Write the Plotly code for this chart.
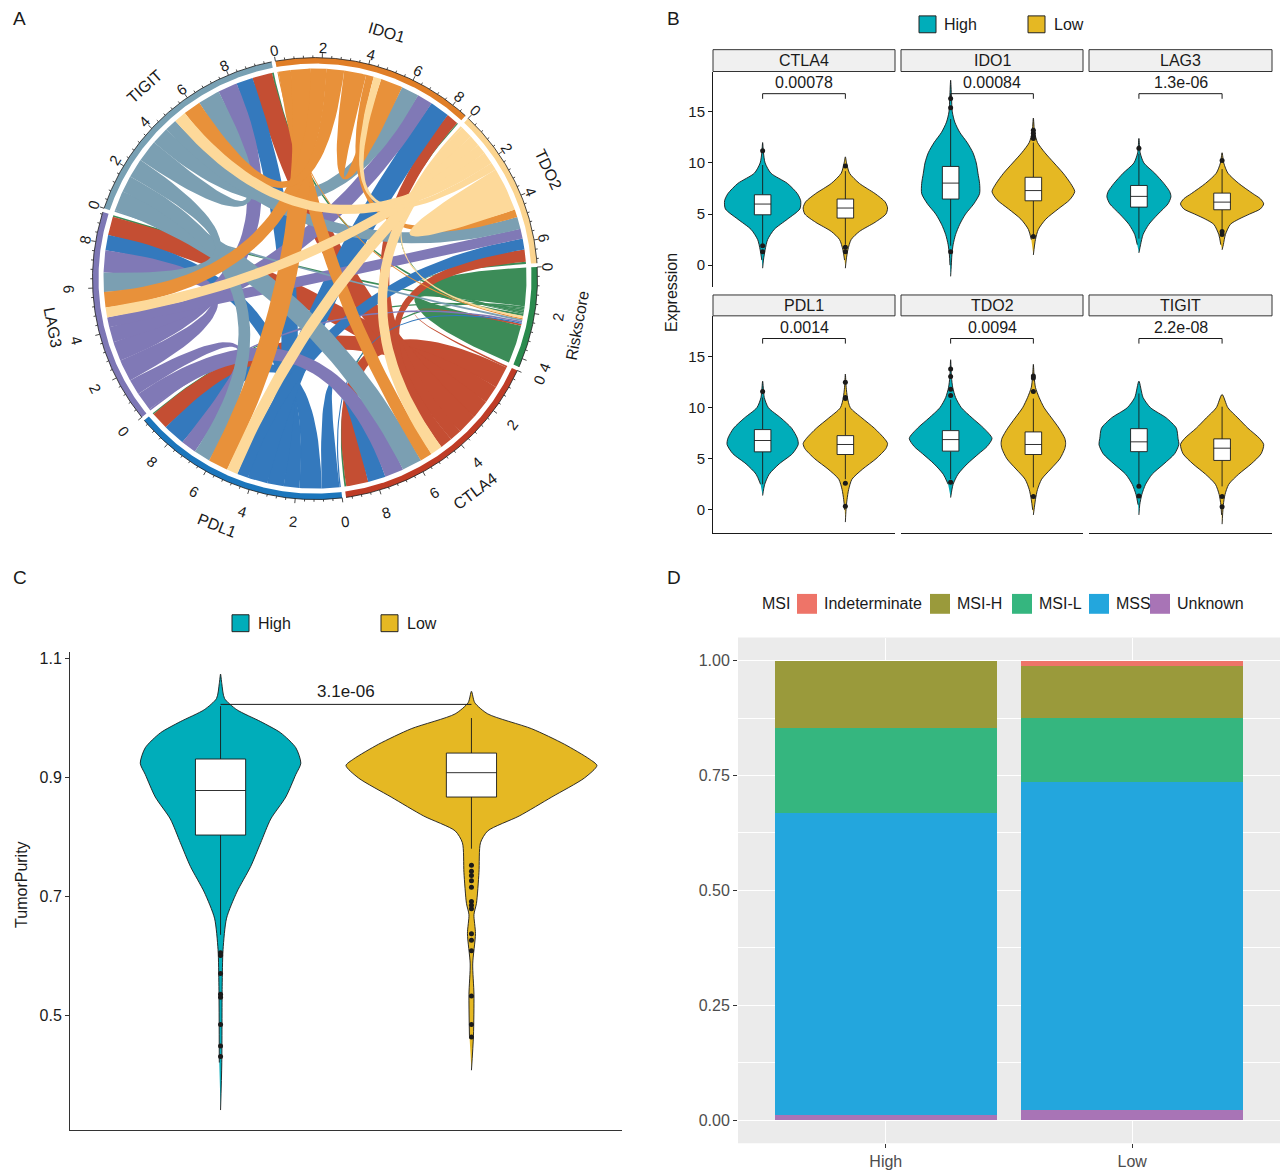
import math
import plotly.graph_objects as go

W, H = 1282, 1170
FONT = "Liberation Sans, Arial, Helvetica, sans-serif"
INK = "#1a1a1a"


def fx(p):
    return p / W


def fy(p):
    return 1 - p / H


# ---------------- A: chord diagram of the checkpoint genes ----------------
chord_sectors = ["Riskscore", "CTLA4", "PDL1", "LAG3", "TIGIT", "IDO1", "TDO2"]
chord_matrix = [
    [1.75, 0.08, 0.06, 0.07, 0.08, 0.05, 0.10],
    [0.08, 1.00, 0.80, 0.85, 0.90, 0.55, 0.55],
    [0.06, 0.80, 1.00, 0.70, 0.75, 0.90, 0.50],
    [0.07, 0.85, 0.70, 1.00, 0.88, 0.70, 0.45],
    [0.08, 0.90, 0.75, 0.88, 1.00, 0.80, 0.55],
    [0.05, 0.55, 0.90, 0.70, 0.80, 1.00, 0.35],
    [0.10, 0.55, 0.50, 0.45, 0.55, 0.35, 1.00],
]
ring_colors = ["#2A8A4E", "#BF3C26", "#1C76BC", "#7D77B5", "#78A0B3", "#E07E27", "#FBD48F"]
link_colors = ["#3C8C58", "#C44E33", "#3479BD", "#8079B6", "#7B9FB2", "#E8913A", "#FDD99A"]

# ---------------- B: expression by risk group ----------------
genes_B = ["CTLA4", "IDO1", "LAG3", "PDL1", "TDO2", "TIGIT"]
pvals_B = ["0.00078", "0.00084", "1.3e-06", "0.0014", "0.0094", "2.2e-08"]

high_levels = [
    [-0.3, 0.5, 1.5, 2.5, 3.5, 4.5, 5.5, 6.3, 7.0, 8.0, 9.0, 10.0, 11.0, 12.0],
    [-1.1, 0, 1, 2, 3, 4, 5, 6, 7, 8, 9, 10, 11, 12, 13, 14, 15, 16.5, 18.1],
    [1.2, 2, 3, 4, 5, 6, 6.7, 7.2, 8, 9, 10, 11, 12.4],
    [1.4, 2.5, 3.5, 4.5, 5.5, 6.4, 7, 8, 9, 10, 11, 12.6],
    [1.2, 2.5, 3.5, 4.5, 5.5, 6.2, 7, 8, 9, 10, 11, 12, 13, 14.7],
    [-0.5, 0.5, 1.5, 2.5, 3.5, 4.5, 5.5, 6.4, 7, 8, 9, 10, 11, 12.6],
]
high_widths = [
    [0, 0.01, 0.03, 0.06, 0.14, 0.30, 0.45, 0.46, 0.42, 0.30, 0.10, 0.03, 0.01, 0],
    [0, 0.008, 0.015, 0.03, 0.06, 0.11, 0.18, 0.28, 0.35, 0.35, 0.33, 0.31, 0.27, 0.20, 0.11, 0.05, 0.02, 0.01, 0],
    [0, 0.02, 0.05, 0.12, 0.23, 0.35, 0.385, 0.37, 0.30, 0.19, 0.06, 0.015, 0],
    [0, 0.025, 0.08, 0.20, 0.36, 0.43, 0.42, 0.35, 0.22, 0.07, 0.02, 0],
    [0, 0.03, 0.09, 0.20, 0.34, 0.44, 0.50, 0.40, 0.26, 0.13, 0.06, 0.025, 0.01, 0],
    [0, 0.01, 0.035, 0.08, 0.16, 0.30, 0.43, 0.48, 0.47, 0.45, 0.33, 0.14, 0.05, 0],
]
low_levels = [
    [-0.3, 0.5, 1.5, 2.5, 3.3, 4.2, 5.0, 5.6, 6.2, 7.0, 8.0, 9.0, 10.0, 10.6],
    [1.0, 2.5, 3.5, 4.5, 5.5, 6.4, 7.2, 8, 9, 10, 11, 12, 13, 14.4],
    [1.5, 2, 3, 4, 4.5, 5, 5.5, 6, 6.5, 7, 8, 9, 10, 11],
    [-1.2, 0, 1, 2, 3, 4, 5, 6, 6.5, 7, 8, 9, 10, 11, 12, 13.3],
    [-0.5, 0, 1, 2, 3, 4, 5, 6, 6.5, 7, 8, 9, 10, 11, 12, 13, 14.25],
    [-1.4, -0.5, 0.5, 1.5, 2.5, 3.5, 4.5, 5.5, 6.4, 7, 8, 9, 10, 11.3],
]
low_widths = [
    [0, 0.01, 0.03, 0.07, 0.17, 0.36, 0.49, 0.51, 0.48, 0.36, 0.17, 0.05, 0.015, 0],
    [0, 0.025, 0.06, 0.15, 0.30, 0.44, 0.50, 0.45, 0.36, 0.25, 0.14, 0.05, 0.015, 0],
    [0, 0.015, 0.04, 0.10, 0.20, 0.33, 0.46, 0.50, 0.46, 0.37, 0.20, 0.07, 0.02, 0],
    [0, 0.008, 0.02, 0.04, 0.08, 0.21, 0.37, 0.49, 0.51, 0.47, 0.35, 0.20, 0.06, 0.025, 0.01, 0],
    [0, 0.008, 0.025, 0.05, 0.10, 0.21, 0.32, 0.38, 0.39, 0.38, 0.31, 0.22, 0.13, 0.07, 0.025, 0.01, 0],
    [0, 0.006, 0.015, 0.035, 0.08, 0.20, 0.35, 0.47, 0.50, 0.45, 0.31, 0.19, 0.07, 0],
]
high_q1 = [4.93, 6.47, 5.68, 5.68, 5.75, 5.70]
high_med = [5.98, 8.03, 6.73, 6.79, 6.88, 6.66]
high_q3 = [6.89, 9.66, 7.80, 7.86, 7.76, 7.95]
high_lo = [2.10, 1.90, 2.60, 2.50, 3.00, 2.50]
high_hi = [9.80, 14.3, 10.9, 11.0, 10.8, 11.4]
high_out = [[11.2, 1.9, 1.3], [16.3, 15.4, 1.3], [11.45], [11.6],
            [13.8, 13.05, 11.8, 11.2, 2.7], [2.3, 1.35]]
low_q1 = [4.61, 6.30, 5.42, 5.42, 5.42, 4.84]
low_med = [5.59, 7.30, 6.17, 6.40, 6.40, 6.04]
low_q3 = [6.47, 8.60, 7.05, 7.27, 7.63, 6.95]
low_lo = [2.00, 3.00, 3.50, 3.00, 2.20, 2.30]
low_hi = [9.20, 12.0, 9.40, 10.0, 10.9, 10.1]
low_out = [[9.7, 1.75, 1.3], [13.2, 12.9, 12.6, 12.4, 2.8], [10.25, 3.3, 3.0],
           [12.5, 11.0, 10.9, 2.6, 0.35], [13.1, 12.9, 11.6, 1.3], [1.3, 0.3]]

# ---------------- C: tumour purity ----------------
purity_high_levels = [0.34, 0.42, 0.548, 0.61, 0.663, 0.707, 0.75, 0.79, 0.83, 0.867,
                      0.905, 0.924, 0.95, 0.975, 0.994, 1.014, 1.033, 1.058, 1.074]
purity_high_widths = [0, 0.005, 0.0065, 0.01, 0.024, 0.065, 0.12, 0.16, 0.20, 0.26,
                      0.30, 0.32, 0.30, 0.24, 0.16, 0.065, 0.016, 0.005, 0]
purity_low_levels = [0.407, 0.465, 0.535, 0.586, 0.637, 0.669, 0.688, 0.74, 0.79, 0.81,
                     0.835, 0.867, 0.899, 0.92, 0.931, 0.956, 0.982, 1.007, 1.026, 1.045]
purity_low_widths = [0, 0.008, 0.01, 0.005, 0.016, 0.01, 0.02, 0.03, 0.036, 0.065,
                     0.19, 0.32, 0.45, 0.50, 0.47, 0.37, 0.24, 0.065, 0.013, 0]
purity_box_high = [0.635, 0.803, 0.878, 0.931, 1.02]   # lower whisker, q1, median, q3, upper whisker
purity_box_low = [0.78, 0.867, 0.908, 0.941, 1.0]
purity_out_high = [0.605, 0.60, 0.57, 0.535, 0.53, 0.484, 0.448, 0.43]
purity_out_low = [0.752, 0.742, 0.735, 0.726, 0.715, 0.691, 0.685, 0.679, 0.637,
                  0.626, 0.608, 0.532, 0.484, 0.463]
purity_p = "3.1e-06"

# ---------------- D: MSI status proportions ----------------
msi_groups = ["High", "Low"]
msi_labels = ["Indeterminate", "MSI-H", "MSI-L", "MSS", "Unknown"]
msi_colors = ["#EE7468", "#9A9A3B", "#35B67F", "#23A6DD", "#A874B6"]
msi_indeterminate = [0.0, 0.011]
msi_h = [0.147, 0.115]
msi_l = [0.185, 0.138]
msi_mss = [0.657, 0.713]
msi_unknown = [0.011, 0.023]

TEAL = "#00ADBA"
GOLD = "#E5B823"

fig = go.Figure()
shapes = []
annotations = []
layout_axes = {}


def text(x, y, s, size=14, color=INK, angle=0, xanchor="center", yanchor="middle",
         xref="paper", yref="paper", yshift=0):
    annotations.append(dict(x=x, y=y, text=s, showarrow=False, textangle=angle,
                            xanchor=xanchor, yanchor=yanchor, xref=xref, yref=yref,
                            yshift=yshift, font=dict(size=size, color=color, family=FONT)))


# ===================== Panel A =====================
n = len(chord_sectors)
GAP = 1.0
START = 87.0
R_LINK, R_IN, R_OUT = 211.5, 216.5, 222.5

sector_tot = [sum(chord_matrix[i]) + sum(chord_matrix[k][i] for k in range(n)) for i in range(n)]
deg_per = (360 - n * GAP) / sum(sector_tot)
sec_start = []
pos = START
for i in range(n):
    sec_start.append(pos)
    pos += sector_tot[i] * deg_per + GAP

row_end = [[None] * n for _ in range(n)]
col_end = [[None] * n for _ in range(n)]
for i in range(n):
    p = sec_start[i]
    for j in range(n):
        w = chord_matrix[i][j] * deg_per
        row_end[i][j] = (p, p + w)
        p += w
    for k in reversed(range(n)):
        w = chord_matrix[k][i] * deg_per
        col_end[k][i] = (p, p + w)
        p += w


def polar(r, b):
    t = math.radians(b)
    return r * math.sin(t), r * math.cos(t)


def arc_pts(r, b0, b1, step=0.4):
    m = max(2, int(abs(b1 - b0) / step) + 2)
    return [polar(r, b0 + (b1 - b0) * s / (m - 1)) for s in range(m)]


def ribbon(a0, a1, b0, b1):
    pa = arc_pts(R_LINK, a0, a1)
    pb = arc_pts(R_LINK, b0, b1)
    ma, mb = math.radians((a0 + a1) / 2), math.radians((b0 + b1) / 2)
    ux = math.sin(ma) + math.sin(mb)
    uy = math.cos(ma) + math.cos(mb)
    norm = math.hypot(ux, uy)
    h = 0.5 * R_LINK * norm / 2
    if norm > 1e-9:
        ux, uy = ux / norm, uy / norm

    def edge(p0, p2):
        mx, my = (p0[0] + p2[0]) / 2, (p0[1] + p2[1]) / 2
        cx, cy = mx - 2 * h * ux, my - 2 * h * uy
        out = []
        for s in range(41):
            t = s / 40
            out.append(((1 - t) ** 2 * p0[0] + 2 * (1 - t) * t * cx + t * t * p2[0],
                        (1 - t) ** 2 * p0[1] + 2 * (1 - t) * t * cy + t * t * p2[1]))
        return out

    return pa + edge(pa[-1], pb[0]) + pb + edge(pb[-1], pa[0])


for i in range(n):
    for j in range(n):
        a0, a1 = row_end[i][j]
        b0, b1 = col_end[i][j]
        pts = ribbon(a0, a1, b0, b1)
        fig.add_trace(go.Scatter(
            x=[q[0] for q in pts], y=[q[1] for q in pts], mode="lines", fill="toself",
            fillcolor=link_colors[i], line=dict(width=0), hoverinfo="skip",
            showlegend=False, xaxis="x", yaxis="y"))


def nice_angle(b):
    a = b % 360
    if 90 < a < 270:
        return a - 180, True
    if a >= 270:
        return a - 360, False
    return a, False


tick_x, tick_y = [], []
for i in range(n):
    s0 = sec_start[i]
    s1 = s0 + sector_tot[i] * deg_per
    outer = arc_pts(R_OUT, s0, s1)
    inner = arc_pts(R_IN, s1, s0)
    ring = outer + inner
    fig.add_trace(go.Scatter(
        x=[q[0] for q in ring], y=[q[1] for q in ring], mode="lines", fill="toself",
        fillcolor=ring_colors[i], line=dict(width=0), hoverinfo="skip",
        showlegend=False, xaxis="x", yaxis="y"))
    fig.add_trace(go.Scatter(
        x=[q[0] for q in outer], y=[q[1] for q in outer], mode="lines",
        line=dict(color=INK, width=0.8), hoverinfo="skip", showlegend=False,
        xaxis="x", yaxis="y"))
    k = 0
    while k * 0.4 <= sector_tot[i] + 1e-9:
        val = k * 0.4
        b = s0 + val * deg_per
        major = k % 5 == 0
        p0 = polar(R_OUT, b)
        p1 = polar(R_OUT + (4.5 if major else 2.2), b)
        tick_x += [p0[0], p1[0], None]
        tick_y += [p0[1], p1[1], None]
        if major:
            ang, flipped = nice_angle(b)
            lp = polar(246 if flipped else 233, b)
            text(lp[0], lp[1], str(int(round(val))), size=15, angle=ang,
                 xref="x", yref="y")
        k += 1
    mid = (s0 + s1) / 2
    ang, flipped = nice_angle(mid)
    lp = polar(267 if flipped else 258, mid)
    text(lp[0], lp[1], chord_sectors[i], size=16, angle=ang, xref="x", yref="y")

fig.add_trace(go.Scatter(x=tick_x, y=tick_y, mode="lines", line=dict(color=INK, width=0.8),
                         hoverinfo="skip", showlegend=False, xaxis="x", yaxis="y"))

layout_axes["xaxis"] = dict(domain=[fx(15), fx(615)], range=[-300, 300], visible=False,
                            anchor="y", fixedrange=True)
layout_axes["yaxis"] = dict(domain=[fy(559), 1.0], range=[-279.5, 279.5], visible=False,
                            anchor="x", fixedrange=True)


# ===================== shared violin / box helpers =====================
def violin(center, levels, widths, color, xa, ya):
    xs = [center + w for w in widths] + [center - w for w in reversed(widths[1:-1])]
    ys = list(levels) + list(reversed(levels[1:-1]))
    fig.add_trace(go.Scatter(
        x=xs, y=ys, mode="lines", fill="toself", fillcolor=color,
        line=dict(color=INK, width=0.9, shape="spline", smoothing=0.7),
        hoverinfo="skip", showlegend=False, xaxis=xa, yaxis=ya))


def boxplot(center, lo, q1, med, q3, hi, outs, xa, ya, half=0.1):
    # whiskers
    fig.add_trace(go.Scatter(
        x=[center, center, None, center, center], y=[lo, q1, None, q3, hi], mode="lines",
        line=dict(color=INK, width=0.9), hoverinfo="skip", showlegend=False,
        xaxis=xa, yaxis=ya))
    # box body
    fig.add_trace(go.Scatter(
        x=[center - half, center + half, center + half, center - half, center - half],
        y=[q1, q1, q3, q3, q1], mode="lines", fill="toself", fillcolor="white",
        line=dict(color=INK, width=0.9), hoverinfo="skip", showlegend=False,
        xaxis=xa, yaxis=ya))
    # median
    fig.add_trace(go.Scatter(
        x=[center - half, center + half], y=[med, med], mode="lines",
        line=dict(color=INK, width=0.9), hoverinfo="skip", showlegend=False,
        xaxis=xa, yaxis=ya))
    if outs:
        fig.add_trace(go.Scatter(
            x=[center] * len(outs), y=outs, mode="markers",
            marker=dict(size=5, color=INK), hoverinfo="skip", showlegend=False,
            xaxis=xa, yaxis=ya))


def bracket(y_top, leg, label, xa, ya, size):
    shapes.append(dict(type="path", xref=xa, yref=ya,
                       path=f"M 1,{y_top - leg} L 1,{y_top} L 2,{y_top} L 2,{y_top - leg}",
                       line=dict(color=INK, width=1)))
    text(1.5, y_top, label, size=size, xref=xa, yref=ya, yanchor="bottom", yshift=1)


# ===================== Panel B =====================
B_cols = [(713, 895), (901, 1083), (1089, 1272)]
B_rows = [(71, 288), (317, 536)]
B_strips = [(49, 71), (296, 317)]
B_yrange = [(-2.14, 18.95), (-2.3, 19.0)]

for g, gene in enumerate(genes_B):
    r, c = divmod(g, 3)
    idx = g + 2
    xa, ya = f"x{idx}", f"y{idx}"
    x0, x1 = B_cols[c]
    t0, t1 = B_rows[r]
    layout_axes[f"xaxis{idx}"] = dict(
        domain=[fx(x0), fx(x1)], range=[0.4, 2.6], anchor=ya, showgrid=False,
        zeroline=False, showticklabels=False, ticks="", showline=(r == 1),
        linecolor=INK, linewidth=1, fixedrange=True)
    layout_axes[f"yaxis{idx}"] = dict(
        domain=[fy(t1), fy(t0)], range=list(B_yrange[r]), anchor=xa, showgrid=False,
        zeroline=False, fixedrange=True, showline=(c == 0), linecolor=INK, linewidth=1,
        ticks="outside" if c == 0 else "", ticklen=4, tickcolor=INK, tickwidth=1,
        tickvals=[0, 5, 10, 15], showticklabels=(c == 0),
        tickfont=dict(size=15, color=INK, family=FONT))
    s0, s1 = B_strips[r]
    shapes.append(dict(type="rect", xref="paper", yref="paper", x0=fx(x0), x1=fx(x1),
                       y0=fy(s1), y1=fy(s0), fillcolor="#F0F0F0",
                       line=dict(color="#333333", width=1)))
    text(fx((x0 + x1) / 2), fy((s0 + s1) / 2), gene, size=16)

    violin(1, high_levels[g], high_widths[g], TEAL, xa, ya)
    violin(2, low_levels[g], low_widths[g], GOLD, xa, ya)
    boxplot(1, high_lo[g], high_q1[g], high_med[g], high_q3[g], high_hi[g], high_out[g], xa, ya)
    boxplot(2, low_lo[g], low_q1[g], low_med[g], low_q3[g], low_hi[g], low_out[g], xa, ya)
    bracket(16.78, 0.5, pvals_B[g], xa, ya, 16)

text(fx(672), fy(294), "Expression", size=16, angle=-90)


def legend_square(x0, y0, size, color, border=True):
    shapes.append(dict(type="rect", xref="paper", yref="paper", x0=fx(x0), x1=fx(x0 + size),
                       y0=fy(y0 + size), y1=fy(y0), fillcolor=color,
                       line=dict(color="#222222" if border else color, width=1 if border else 0)))


legend_square(919, 15, 17, TEAL)
text(fx(942), fy(24), "High", size=16, xanchor="left")
legend_square(1028, 15, 17, GOLD)
text(fx(1052), fy(24), "Low", size=16, xanchor="left")

# ===================== Panel C =====================
layout_axes["xaxis8"] = dict(domain=[fx(70), fx(622)], range=[0.4, 2.6], anchor="y8",
                             showgrid=False, zeroline=False, showticklabels=False, ticks="",
                             showline=True, linecolor="#333333", linewidth=1, fixedrange=True)
layout_axes["yaxis8"] = dict(domain=[fy(1137), fy(655)], range=[0.306, 1.112], anchor="x8",
                             showgrid=False, zeroline=False, showline=True,
                             linecolor="#333333", linewidth=1, ticks="outside", ticklen=4,
                             tickcolor="#333333", tickvals=[0.5, 0.7, 0.9, 1.1],
                             ticktext=["0.5", "0.7", "0.9", "1.1"],
                             tickfont=dict(size=16, color=INK, family=FONT), fixedrange=True)
violin(1, purity_high_levels, purity_high_widths, TEAL, "x8", "y8")
violin(2, purity_low_levels, purity_low_widths, GOLD, "x8", "y8")
boxplot(1, *purity_box_high, purity_out_high, "x8", "y8")
boxplot(2, *purity_box_low, purity_out_low, "x8", "y8")
bracket(1.023, 0.0, purity_p, "x8", "y8", 17)
text(fx(22), fy(890), "TumorPurity", size=16, angle=-90)
legend_square(232, 618, 17, TEAL)
text(fx(256), fy(627), "High", size=16, xanchor="left")
legend_square(381, 618, 17, GOLD)
text(fx(405), fy(627), "Low", size=16, xanchor="left")

# ===================== Panel D =====================
stack_values = [msi_unknown, msi_mss, msi_l, msi_h, msi_indeterminate]
stack_labels = ["Unknown", "MSS", "MSI-L", "MSI-H", "Indeterminate"]
for vals, lab in zip(stack_values, stack_labels):
    fig.add_trace(go.Bar(x=[1, 2], y=vals, width=0.9, name=lab,
                         marker=dict(color=msi_colors[msi_labels.index(lab)], line=dict(width=0)),
                         hoverinfo="skip", showlegend=False, xaxis="x9", yaxis="y9"))

layout_axes["xaxis9"] = dict(domain=[fx(738), fx(1280)], range=[0.4, 2.6], anchor="y9",
                             tickvals=[1, 2], ticktext=msi_groups, showgrid=True,
                             gridcolor="white", gridwidth=1.2, zeroline=False, ticks="outside",
                             ticklen=4, tickcolor="#333333", showline=False,
                             tickfont=dict(size=16, color="#4D4D4D", family=FONT), fixedrange=True)
layout_axes["yaxis9"] = dict(domain=[fy(1150), fy(641)], range=[-0.05, 1.05], anchor="x9",
                             tickvals=[0, 0.25, 0.5, 0.75, 1.0],
                             ticktext=["0.00", "0.25", "0.50", "0.75", "1.00"],
                             showgrid=True, gridcolor="white", gridwidth=1.2, zeroline=False,
                             ticks="outside", ticklen=4, tickcolor="#333333", showline=False,
                             minor=dict(tickvals=[0.125, 0.375, 0.625, 0.875], showgrid=True,
                                        gridcolor="white", gridwidth=0.6, ticks=""),
                             tickfont=dict(size=16, color="#4D4D4D", family=FONT), fixedrange=True)
shapes.append(dict(type="rect", xref="x9 domain", yref="y9 domain", x0=0, x1=1, y0=0, y1=1,
                   fillcolor="#EBEBEB", line=dict(width=0), layer="below"))

text(fx(760), fy(607), "MSI", size=16, xanchor="left")
legend_items = [(797, "Indeterminate"), (930, "MSI-H"), (1012, "MSI-L"), (1089, "MSS"), (1150, "Unknown")]
for (x0, lab) in legend_items:
    legend_square(x0, 597, 20, msi_colors[msi_labels.index(lab)], border=False)
    text(fx(x0 + 25), fy(607), lab, size=16, xanchor="left")

# ===================== panel tags =====================
for tag, (px_, py_) in zip("ABCD", [(11, 18), (665, 18), (11, 580), (665, 580)]):
    text(fx(px_), fy(py_), tag, size=19, xanchor="left")

fig.update_layout(
    width=W, height=H, autosize=False, margin=dict(l=0, r=0, t=0, b=0, pad=0),
    paper_bgcolor="white", plot_bgcolor="white", showlegend=False,
    barmode="stack", font=dict(family=FONT, color=INK),
    shapes=shapes, annotations=annotations, **layout_axes)

fig.write_html("out.html")
